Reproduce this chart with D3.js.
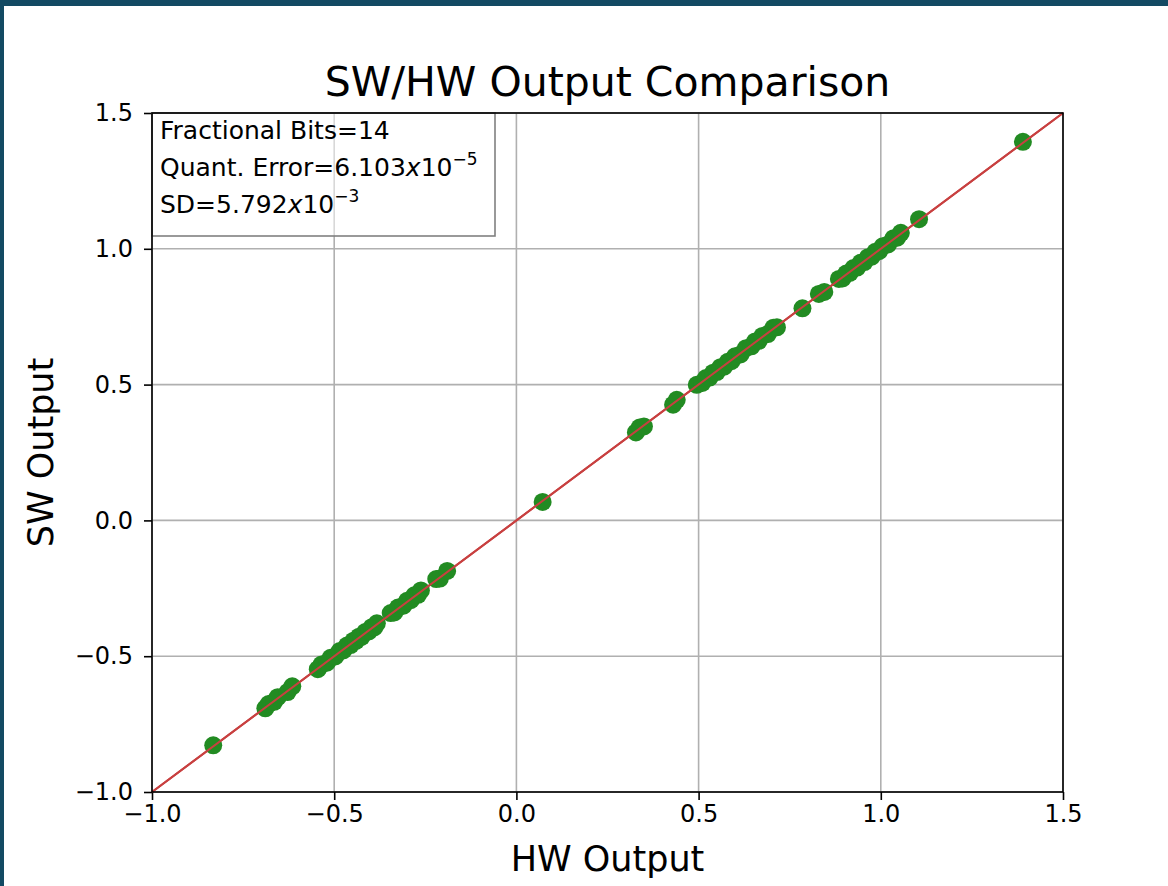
<!DOCTYPE html>
<html>
<head>
<meta charset="utf-8">
<script src="https://cdn.jsdelivr.net/npm/d3@7"></script>
<style>
  html, body { margin: 0; padding: 0; background: #134a63; }
  svg { display: block; font-family: "DejaVu Sans", sans-serif; }
</style>
</head>
<body>
<div id="chart"></div>
<script>
// HW output (x) and SW output (y) for each sample
const hwOutput = [-0.832, -0.689, -0.680, -0.665, -0.655, -0.628, -0.615,
    -0.545, -0.535, -0.520, -0.510, -0.497, -0.485, -0.475, -0.465, -0.455, -0.447, -0.440,
    -0.432, -0.425, -0.415, -0.405, -0.397, -0.390, -0.383,
    -0.345, -0.335, -0.325, -0.310, -0.300, -0.290, -0.280, -0.270, -0.262,
    -0.220, -0.210, -0.190,
    0.072, 0.328, 0.338, 0.350, 0.430, 0.440,
    0.495, 0.510, 0.520, 0.530, 0.540, 0.550, 0.560, 0.570, 0.580, 0.590, 0.600, 0.615,
    0.630, 0.645, 0.655, 0.665, 0.675, 0.690, 0.705, 0.715,
    0.785, 0.830, 0.845,
    0.885, 0.895, 0.905, 0.915, 0.925, 0.935, 0.945, 0.955, 0.965, 0.975, 0.985, 0.995,
    1.005, 1.020, 1.035, 1.045, 1.055, 1.105, 1.390];
const swOutput = [-0.828, -0.692, -0.676, -0.668, -0.651, -0.632, -0.611,
    -0.548, -0.531, -0.524, -0.506, -0.501, -0.481, -0.479, -0.461, -0.459, -0.443, -0.444,
    -0.428, -0.429, -0.411, -0.409, -0.393, -0.394, -0.379,
    -0.341, -0.339, -0.321, -0.314, -0.296, -0.294, -0.276, -0.274, -0.258,
    -0.216, -0.214, -0.186,
    0.068, 0.324, 0.342, 0.346, 0.426, 0.444,
    0.499, 0.506, 0.524, 0.526, 0.544, 0.546, 0.564, 0.566, 0.584, 0.586, 0.604, 0.611,
    0.634, 0.641, 0.659, 0.661, 0.679, 0.686, 0.709, 0.711,
    0.781, 0.834, 0.841,
    0.889, 0.891, 0.909, 0.911, 0.929, 0.931, 0.949, 0.951, 0.969, 0.971, 0.989, 0.991,
    1.009, 1.016, 1.039, 1.041, 1.059, 1.109, 1.394];
const tickValues = [-1.0, -0.5, 0.0, 0.5, 1.0, 1.5];
const refLine = [-1.0, 1.5];

const W = 1168, H = 886;
const margin = { top: 113, right: 105, bottom: 94, left: 152 };
const width = W - margin.left - margin.right,
    height = H - margin.top - margin.bottom;

const svg = d3.select("#chart").append("svg")
    .attr("width", W)
    .attr("height", H);

// dark frame at top/left of the screenshot
svg.append("rect").attr("width", W).attr("height", H).attr("fill", "#134a63");
svg.append("rect").attr("x", 4).attr("y", 6).attr("width", W - 4).attr("height", H - 6).attr("fill", "#ffffff");

const g = svg.append("g")
    .attr("transform", "translate(" + margin.left + "," + margin.top + ")");

const x = d3.scaleLinear().domain([-1.0, 1.5]).range([0, width]);
const y = d3.scaleLinear().domain([-1.0, 1.5]).range([height, 0]);

const fmt = d => d3.format(".1f")(d).replace("-", "\u2212");

// grid
g.append("g").selectAll("line").data(tickValues).enter().append("line")
    .attr("x1", d => x(d)).attr("x2", d => x(d))
    .attr("y1", 0).attr("y2", height)
    .attr("stroke", "#b0b0b0").attr("stroke-width", 1.6);
g.append("g").selectAll("line").data(tickValues).enter().append("line")
    .attr("y1", d => y(d)).attr("y2", d => y(d))
    .attr("x1", 0).attr("x2", width)
    .attr("stroke", "#b0b0b0").attr("stroke-width", 1.6);

// axes
const xAxis = g.append("g")
    .attr("transform", "translate(0," + height + ")")
    .call(d3.axisBottom(x).tickValues(tickValues).tickFormat(fmt).tickSize(8).tickPadding(5));
const yAxis = g.append("g")
    .call(d3.axisLeft(y).tickValues(tickValues).tickFormat(fmt).tickSize(8).tickPadding(11));
[xAxis, yAxis].forEach(a => {
    a.select(".domain").remove();
    a.selectAll(".tick line").attr("stroke", "#000").attr("stroke-width", 1.6);
    a.selectAll("text").attr("fill", "#000").style("font-size", "24px").style("font-family", "DejaVu Sans");
});

// reference line y = x
g.append("line")
    .attr("x1", x(refLine[0])).attr("y1", y(refLine[0]))
    .attr("x2", x(refLine[1])).attr("y2", y(refLine[1]))
    .attr("stroke", "#c84040").attr("stroke-width", 2);

// points
g.selectAll(".dot")
    .data(hwOutput.map((d, i) => [d, swOutput[i]]))
    .enter().append("circle")
    .attr("class", "dot")
    .attr("cx", d => x(d[0]))
    .attr("cy", d => y(d[1]))
    .attr("r", 9)
    .attr("fill", "#228b22");

// red line drawn again over the points
g.append("line")
    .attr("x1", x(refLine[0])).attr("y1", y(refLine[0]))
    .attr("x2", x(refLine[1])).attr("y2", y(refLine[1]))
    .attr("stroke", "#c84040").attr("stroke-width", 2);

// info box
const box = g.append("g");
box.append("rect")
    .attr("x", 0).attr("y", 0).attr("width", 343).attr("height", 123)
    .attr("fill", "#ffffff").attr("fill-opacity", 0.5)
    .attr("stroke", "#808080").attr("stroke-width", 1.6);
const lines = box.append("g").style("font-size", "25px").attr("fill", "#000");
lines.append("text").attr("x", 8).attr("y", 26).text("Fractional Bits=14");
const t2 = lines.append("text").attr("x", 8).attr("y", 63);
t2.append("tspan").text("Quant. Error=6.103");
t2.append("tspan").style("font-style", "italic").text("x");
t2.append("tspan").text("10");
t2.append("tspan").attr("dy", -11).style("font-size", "17px").text("\u22125");
const t3 = lines.append("text").attr("x", 8).attr("y", 100);
t3.append("tspan").text("SD=5.792");
t3.append("tspan").style("font-style", "italic").text("x");
t3.append("tspan").text("10");
t3.append("tspan").attr("dy", -11).style("font-size", "17px").text("\u22123");

// frame
g.append("rect")
    .attr("width", width).attr("height", height)
    .attr("fill", "none").attr("stroke", "#000").attr("stroke-width", 1.6);

// title and axis labels
svg.append("text")
    .attr("x", margin.left + width / 2).attr("y", 96)
    .attr("text-anchor", "middle")
    .style("font-size", "41px")
    .text("SW/HW Output Comparison");
svg.append("text")
    .attr("x", margin.left + width / 2).attr("y", 871)
    .attr("text-anchor", "middle")
    .style("font-size", "35px")
    .text("HW Output");
svg.append("text")
    .attr("transform", "translate(53," + (margin.top + height / 2) + ")rotate(-90)")
    .attr("text-anchor", "middle")
    .style("font-size", "35px")
    .text("SW Output");
</script>
</body>
</html>
